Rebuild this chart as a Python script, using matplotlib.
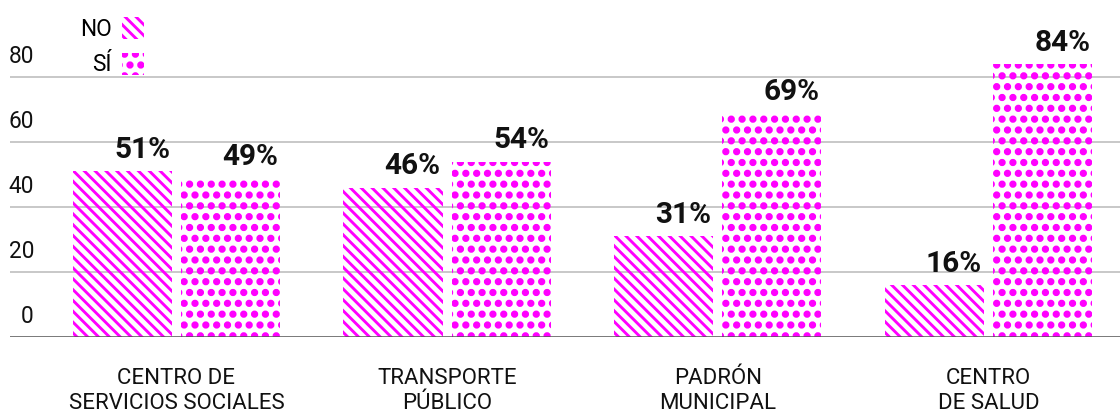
#!/usr/bin/env python3

import matplotlib
matplotlib.use("Agg")
import matplotlib.pyplot as plt
import matplotlib.hatch
from matplotlib.patches import Patch

categories = ["CENTRO DE\nSERVICIOS SOCIALES", "TRANSPORTE\nPÚBLICO",
              "PADRÓN\nMUNICIPAL", "CENTRO\nDE SALUD"]
no_vals = [51, 46, 31, 16]
si_vals = [49, 54, 69, 84]
series_labels = ["NO", "SÍ"]
yticks = [0, 20, 40, 60, 80]

MAGENTA = "#ff00ff"
DPI = 130
STRIPES = chr(92) * 4
DOTS = ".."

# bigger filled dots for the "." hatch
matplotlib.hatch.SmallFilledCircles.size = 0.2
plt.rcParams["hatch.linewidth"] = 1.6
plt.rcParams["font.family"] = ["Roboto", "DejaVu Sans"]

fig = plt.figure(figsize=(1120 / DPI, 414 / DPI), dpi=DPI)
ax = fig.add_axes([10 / 1120, 77 / 414, 1110 / 1120, 337 / 414])

x = list(range(len(categories)))
w = 0.366
off = 0.2

bars_no = ax.bar([i - off for i in x], no_vals, w, facecolor="none",
                 edgecolor=MAGENTA, linewidth=0, hatch=STRIPES, zorder=2)
bars_si = ax.bar([i + off for i in x], si_vals, w, facecolor="none",
                 edgecolor=MAGENTA, linewidth=0, hatch=DOTS, zorder=2)

for bars, vals in [(bars_no, no_vals), (bars_si, si_vals)]:
    for b, v in zip(bars, vals):
        ax.annotate("{}%".format(v), (b.get_x() + b.get_width(), v),
                    xytext=(-1, 4), textcoords="offset points",
                    ha="right", va="bottom", fontsize=16.5,
                    fontweight="bold", color="#111111")

ax.set_xlim(-0.615, 3.486)
ax.set_ylim(0, 103.7)

for t in yticks:
    if t > 0:
        ax.axhline(t, color="#c4c4c4", linewidth=1, zorder=1)
    ax.annotate(str(t), (24 / 1110, t),
                xycoords=("axes fraction", "data"),
                xytext=(0, 5), textcoords="offset points",
                ha="right", va="bottom", fontsize=12.5, color="#111111")
ax.axhline(0, color="#555555", linewidth=1.4, zorder=3)

for i, c in enumerate(categories):
    ax.annotate(c, (i, 0), xytext=(0, -17), textcoords="offset points",
                ha="center", va="top", fontsize=12.3, linespacing=1.28,
                color="#111111")

for s in ax.spines.values():
    s.set_visible(False)
ax.set_xticks([])
ax.set_yticks([])

handles = [Patch(facecolor="none", edgecolor=MAGENTA, linewidth=0, hatch=STRIPES),
           Patch(facecolor="none", edgecolor=MAGENTA, linewidth=0, hatch=DOTS)]
fig.legend(handles, series_labels, loc="upper left",
           bbox_to_anchor=(80 / 1120, 1 - 17 / 414), frameon=False,
           markerfirst=False, fontsize=12.5, handlelength=1.0,
           handleheight=1.1, handletextpad=0.45, labelspacing=0.55,
           borderpad=0, borderaxespad=0)

fig.savefig("out.png", dpi=DPI)
